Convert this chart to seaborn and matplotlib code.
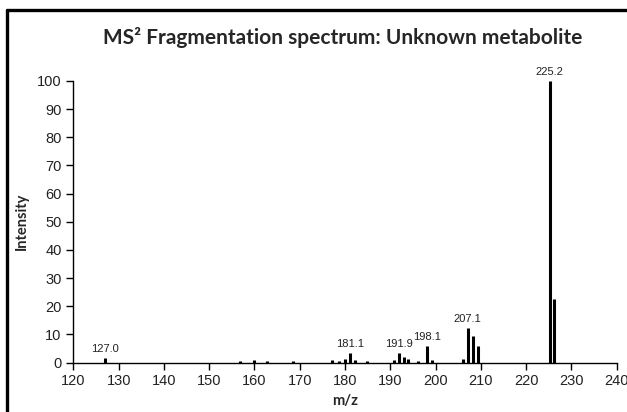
import numpy as np
import matplotlib
matplotlib.use("Agg")
import matplotlib.pyplot as plt
from matplotlib.lines import Line2D
import seaborn as sns
import pandas as pd

# ======================================
# DATA
# ======================================
mz = [127.0, 156.9, 160.0, 162.8, 168.4,
      177.2, 178.7, 180.1, 181.1, 182.3, 184.9,
      190.8, 191.9, 193.0, 194.0, 196.1, 198.1, 199.3,
      206.1, 207.1, 208.2, 209.3,
      225.2, 226.2]
intensity = [1.5, 0.6, 0.8, 0.7, 0.5,
             0.8, 0.5, 1.3, 3.5, 0.9, 0.6,
             0.9, 3.4, 1.9, 1.4, 0.6, 5.8, 0.9,
             1.3, 12.2, 9.6, 5.9,
             100.0, 22.5]
label_mz = [127.0, 181.1, 191.9, 198.1, 207.1, 225.2]
label_text = ["127.0", "181.1", "191.9", "198.1", "207.1", "225.2"]

xticks = list(range(120, 241, 10))
yticks = list(range(0, 101, 10))

df = pd.DataFrame({"mz": mz, "intensity": intensity})

# ======================================
# PLOT
# ======================================
sns.set_style("ticks")
plt.rcParams["font.family"] = ["Liberation Sans", "DejaVu Sans"]

fig = plt.figure(figsize=(6.27, 4.12), dpi=100)
ax = fig.add_axes([0.117, 0.120, 0.8666, 0.6834])

ax.vlines(df["mz"], 0, df["intensity"], color="black", linewidth=2.2)

lookup = dict(zip(mz, intensity))
for m, t in zip(label_mz, label_text):
    ax.annotate(t, (m, lookup[m]), xytext=(0, 3), textcoords="offset points",
                ha="center", va="bottom", fontsize=8, color="#222222",
                annotation_clip=False)

ax.set_xlim(120, 240)
ax.set_ylim(0, 100)
ax.set_xticks(xticks)
ax.set_yticks(yticks)
ax.tick_params(axis="both", labelsize=10.5, length=5, width=1, colors="black",
               labelcolor="#222222")
sns.despine(ax=ax)
for s in ["left", "bottom"]:
    ax.spines[s].set_linewidth(1)
    ax.spines[s].set_color("black")

ax.set_xlabel("m/z", fontsize=10.5, fontweight="bold", family="Lato", labelpad=4)
ax.set_ylabel("Intensity", fontsize=10.5, fontweight="bold", family="Lato", labelpad=6)

fig.text(0.547, 0.91, "MS² Fragmentation spectrum: Unknown metabolite",
         ha="center", va="center", fontsize=15, fontweight="bold", family="Lato")

# frame around the picture (left and top edge)
fig.add_artist(Line2D([0.0105, 0.0105], [0.0, 0.976], transform=fig.transFigure,
                      color="black", linewidth=2.4))
fig.add_artist(Line2D([0.0105, 1.0], [0.976, 0.976], transform=fig.transFigure,
                      color="black", linewidth=2.4))

fig.savefig("out.png", dpi=100)
